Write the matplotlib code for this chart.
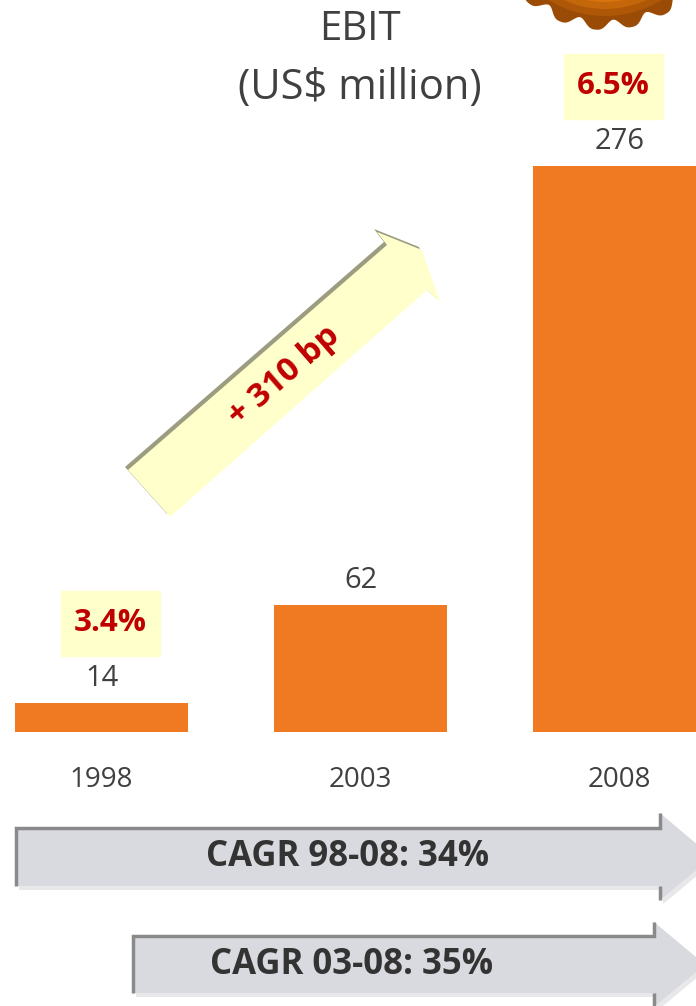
import matplotlib.pyplot as plt
import numpy as np
from matplotlib.patches import Polygon, Rectangle, Circle

plt.rcParams['font.family'] = ['Open Sans', 'DejaVu Sans']

years = ["1998", "2003", "2008"]
ebit = [14, 62, 276]
margins = ["3.4%", None, "6.5%"]
margin_change = "+ 310 bp"
cagr_labels = ["CAGR 98-08: 34%", "CAGR 03-08: 35%"]

bar_color = "#F07A21"
text_gray = "#404040"
red = "#C00000"
pale_yellow = "#FFFFCC"

fig = plt.figure(figsize=(6.96, 10.06), dpi=100)

# bars in data coordinates
ax = fig.add_axes([0, 0, 1, 1])
ax.set_xlim(-0.392, 2.295)
ax.set_ylim(-133.7, 357.1)
ax.axis("off")

x = np.arange(len(years))
ax.bar(x, ebit, width=0.668, color=bar_color, zorder=2)

for i, v in enumerate(ebit):
    ax.text(i, v + 12, str(v), ha="center", va="center", fontsize=21, color=text_gray)
    ax.text(i, -23.4, years[i], ha="center", va="center", fontsize=20, color=text_gray)

# margin boxes above the bars
box_dx = [0.035, 0, -0.025]
for i, m in enumerate(margins):
    if m is None:
        continue
    cx, cy = i + box_dx[i], ebit[i] + 39
    ax.add_patch(Rectangle((cx - 0.191, cy - 15.9), 0.382, 31.8, color=pale_yellow, zorder=1))
    ax.text(cx, cy, m, ha="center", va="center", fontsize=22.5, fontweight="bold", color=red, zorder=3)

# overlay in pixel coordinates for decorations
ov = fig.add_axes([0, 0, 1, 1])
ov.set_xlim(0, 696)
ov.set_ylim(1006, 0)
ov.axis("off")
ov.patch.set_alpha(0)

ov.text(360, 30, "EBIT", ha="center", va="center", fontsize=29, color=text_gray)
ov.text(360, 88, "(US$ million)", ha="center", va="center", fontsize=30, color=text_gray)

# orange cog in the corner
theta = np.linspace(0, 2 * np.pi, 900)
n_teeth = 21
bite = 10 * np.abs(np.cos(n_teeth * theta / 2)) ** 3
r = 122 - bite
ov.add_patch(Polygon(np.c_[605 + r * np.cos(theta), -92 + r * np.sin(theta)],
                     closed=True, color="#9A4C06", lw=0))
cols = ["#AE5707", "#C4660A", "#D8740D", "#E8820F", "#F08C14"]
for k, c in enumerate(cols):
    ov.add_patch(Circle((605, -92), 108 - k * 7, color=c, lw=0))

# diagonal margin arrow
arrow_pts = np.array([(128, 470), (387, 245), (377, 232), (422, 250),
                      (440, 302), (427, 290), (170, 517)])
ov.add_patch(Polygon(arrow_pts + np.array([-3, -3]), closed=True, color="#9C9C80", lw=0))
ov.add_patch(Polygon(arrow_pts, closed=True, color=pale_yellow, lw=0))
ov.text(284, 376, margin_change, ha="center", va="center", rotation=41,
        fontsize=24, fontweight="bold", color=red)

# CAGR arrows
def cagr_arrow(x0, x1, y0, y1, head_top, head_bot, tip, label, tx):
    yc = (y0 + y1) / 2
    pts = np.array([(x0, y0), (x1, y0), (x1, head_top), (tip, yc),
                    (x1, head_bot), (x1, y1), (x0, y1)])
    ov.add_patch(Polygon(pts + np.array([3, 4]), closed=True, color="#E8E8EA", lw=0))
    ov.add_patch(Polygon(pts, closed=True, color="#D9DADF", lw=0))
    ov.plot([x0, x0, x1, x1], [y1, y0, y0, head_top], color="#8A8A8A", lw=2.5,
            solid_capstyle="butt", solid_joinstyle="miter")
    ov.plot([x1, x1], [y1, head_bot], color="#8A8A8A", lw=2.5, solid_capstyle="butt")
    ov.text(tx, yc, label, ha="center", va="center", fontsize=25,
            fontweight="bold", color="#333333")

cagr_arrow(16, 660, 828, 886, 813, 900, 712, cagr_labels[0], 348)
cagr_arrow(133, 654, 936, 993, 922, 1007, 705, cagr_labels[1], 352)

fig.savefig("out.png", dpi=100)
